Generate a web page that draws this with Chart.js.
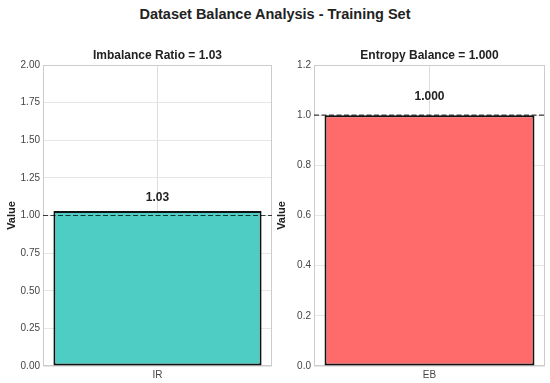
<!DOCTYPE html>
<html>
<head>
<meta charset="utf-8">
<script src="https://cdn.jsdelivr.net/npm/chart.js@4/dist/chart.umd.min.js"></script>
<style>
  body { margin: 0; background: #fff; }
  #wrap { position: relative; width: 550px; height: 383px; overflow: hidden; }
  #title { position: absolute; left: 0; top: 6px; width: 550px; text-align: center;
           font: bold 14.5px "Liberation Sans", Arial, sans-serif; color: #222; }
  canvas { position: absolute; top: 0; }
</style>
</head>
<body>
<div id="wrap">
  <div id="title">Dataset Balance Analysis - Training Set</div>
  <canvas id="irChart" width="280" height="383" style="left:0px"></canvas>
  <canvas id="ebChart" width="280" height="383" style="left:270px"></canvas>
</div>
<script>
// values
const irLabels = ["IR"];
const irValues = [1.03];
const irTitle = "Imbalance Ratio = 1.03";
const irTicks = { min: 0, max: 2.0, step: 0.25, decimals: 2 };

const ebLabels = ["EB"];
const ebValues = [1.0];
const ebTitle = "Entropy Balance = 1.000";
const ebTicks = { min: 0, max: 1.2, step: 0.2, decimals: 1 };

const refLine = 1.0;
const FONT = "'Liberation Sans', Arial, sans-serif";

// frame, dashed reference line, value labels and subplot title
const extras = {
  id: "extras",
  beforeDatasetsDraw(chart) {
    const { ctx, chartArea: a } = chart;
    ctx.save();
    ctx.strokeStyle = "#cccccc";
    ctx.lineWidth = 1;
    ctx.strokeRect(a.left + 0.5, a.top + 0.5, a.right - a.left - 1, a.bottom - a.top - 1);
    ctx.restore();
  },
  afterDatasetsDraw(chart, args, opts) {
    const { ctx, chartArea: a, scales } = chart;
    const y = scales.y.getPixelForValue(refLine);
    ctx.save();
    ctx.strokeStyle = "rgba(0,0,0,0.75)";
    ctx.lineWidth = 1.2;
    ctx.setLineDash([5, 2.5]);
    ctx.beginPath();
    ctx.moveTo(a.left, y);
    ctx.lineTo(a.right, y);
    ctx.stroke();
    ctx.setLineDash([]);

    const meta = chart.getDatasetMeta(0);
    ctx.fillStyle = "#222";
    ctx.font = "bold 12px " + FONT;
    ctx.textAlign = "center";
    ctx.textBaseline = "bottom";
    chart.data.datasets[0].data.forEach((v, i) => {
      const py = scales.y.getPixelForValue(v + 0.05);
      ctx.fillText(v.toFixed(opts.decimals), meta.data[i].x, py);
    });

    ctx.font = "bold 12px " + FONT;
    ctx.textBaseline = "middle";
    ctx.fillText(opts.title, (a.left + a.right) / 2, 56);
    ctx.restore();
  }
};

function makeChart(id, labels, values, color, title, t, valueDecimals, rightPad, axisWidth) {
  return new Chart(document.getElementById(id), {
    type: "bar",
    data: {
      labels: labels,
      datasets: [{
        data: values,
        backgroundColor: color,
        borderColor: "#111",
        borderWidth: 2,
        borderSkipped: false,
        barPercentage: 0.909,
        categoryPercentage: 1.0
      }]
    },
    plugins: [extras],
    options: {
      responsive: false,
      animation: false,
      layout: { padding: { top: 65, bottom: 0, left: 0, right: rightPad } },
      plugins: {
        legend: { display: false },
        tooltip: { enabled: false },
        extras: { title: title, decimals: valueDecimals }
      },
      scales: {
        x: {
          grid: { color: "#dddddd", offset: false, drawTicks: false, tickLength: 0 },
          border: { display: false },
          ticks: { color: "#444", padding: 3, font: { family: FONT, size: 10 } },
          afterFit(scale) { scale.height = 17; }
        },
        y: {
          min: t.min,
          max: t.max,
          grid: { color: "#e6e6e6", drawTicks: false, tickLength: 0 },
          border: { display: false },
          ticks: {
            stepSize: t.step,
            color: "#444",
            padding: 3,
            font: { family: FONT, size: 10 },
            callback: v => Number(v).toFixed(t.decimals)
          },
          title: {
            display: true,
            text: "Value",
            color: "#222",
            padding: { top: 5, bottom: 0 },
            font: { family: FONT, size: 11, weight: "bold" }
          },
          afterFit(scale) { scale.width = axisWidth; }
        }
      }
    }
  });
}

makeChart("irChart", irLabels, irValues, "#4ECDC4", irTitle, irTicks, 2, 8, 43);
makeChart("ebChart", ebLabels, ebValues, "#FF6B6B", ebTitle, ebTicks, 3, 5, 44);
</script>
</body>
</html>
